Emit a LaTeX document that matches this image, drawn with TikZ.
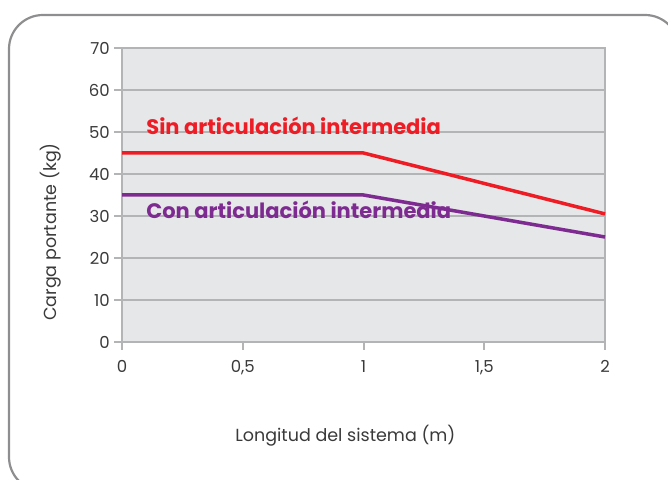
\documentclass[tikz,border=0pt]{standalone}
\usepackage{fontspec}
\setmainfont{Poppins}

\definecolor{framegray}{HTML}{8E8E90}
\definecolor{gridgray}{HTML}{B3B4B6}
\definecolor{plotbg}{HTML}{E6E7E8}
\definecolor{sinred}{HTML}{EE1C25}
\definecolor{conpurple}{HTML}{7E2B91}
\definecolor{textgray}{HTML}{3A3A3A}

\tikzset{
  gridline/.style={gridgray, line width=2pt},
  ticklabel/.style={font=\fontsize{16.5}{16.5}\selectfont, text=textgray, inner sep=0pt},
  axislabel/.style={font=\fontsize{17.5}{17.5}\selectfont, text=textgray, inner sep=0pt},
  curvelabel/.style={font=\fontsize{21}{21}\selectfont\bfseries, inner sep=0pt, anchor=base west},
  curveline/.style={line width=3.5pt}
}

\begin{document}
\begin{tikzpicture}[x=1pt,y=1pt]
  \useasboundingbox (0,0) rectangle (668,479);

  % Outer frame (cut by the right and bottom edges)
  \draw[framegray, line width=2.2pt, rounded corners=34pt] (9,-12) rectangle (679,464);

  % Chart area: 1 m = 241.5pt, 10 kg = 42pt
  \begin{scope}[shift={(122,137)}, x=241.5pt, y=4.2pt]

    % Background and horizontal grid
    \fill[plotbg] (0,0) rectangle (2,70);
    \foreach \y in {10,20,...,60}
      \draw[gridline] (0,\y) -- (2,\y);
    \draw[gridline] (0,0) rectangle (2,70);

    % Y axis ticks and labels
    \foreach \y in {0,10,...,70} {
      \draw[gridline] (0,\y) -- ++(-8pt,0);
      \node[ticklabel, anchor=east] (ytick\y) at ([xshift=-12pt]0,\y) {\y};
    }

    % X axis ticks and labels
    \foreach \x/\lab in {0/0, 0.5/{0,5}, 1/1, 1.5/{1,5}, 2/2} {
      \draw[gridline] (\x,0) -- ++(0,-8pt);
      \node[ticklabel, anchor=north] (xtick\x) at ([yshift=-18pt]\x,0) {\lab};
    }

    % Curves
    \coordinate (sinA) at (0,45);
    \coordinate (sinB) at (1,45);
    \coordinate (sinC) at (2,30.5);
    \coordinate (conA) at (0,35);
    \coordinate (conB) at (1,35);
    \coordinate (conC) at (2,25);

    \draw[curveline, sinred] (sinA) -- (sinB) -- (sinC);
    \draw[curveline, conpurple] (conA) -- (conB) -- (conC);

    % Curve labels
    \node[curvelabel, text=sinred] (sinlab) at (0.1,49.3) {Sin articulación intermedia};
    \node[curvelabel, text=conpurple] (conlab) at (0.1,29.5) {Con articulación intermedia};

    % Axis titles
    \node[axislabel, rotate=90] (ytitle) at ([xshift=-71pt]0,26.2) {Carga portante (kg)};
    \node[axislabel] (xtitle) at ([yshift=-94pt]0.925,0) {Longitud del sistema (m)};

  \end{scope}

\end{tikzpicture}
\end{document}
